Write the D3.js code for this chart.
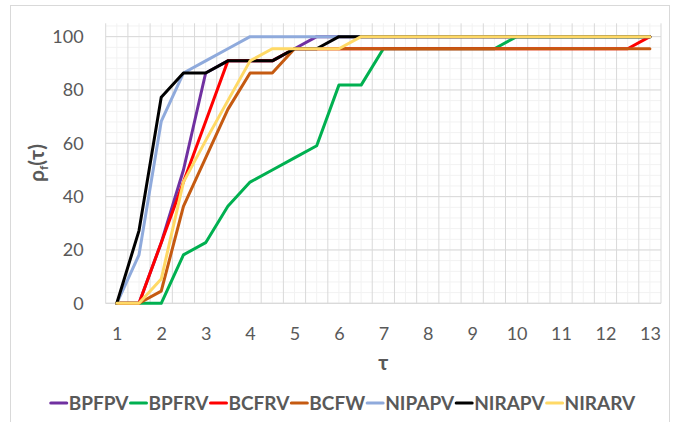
<!DOCTYPE html>
<html>
<head>
<meta charset="utf-8">
<script src="https://cdn.jsdelivr.net/npm/d3@7"></script>
<style>
    body { margin: 0; background: #fff; }
    text { font-family: Lato, "Open Sans", sans-serif; fill: #595959; }
</style>
</head>
<body>
<div id="chart"></div>
<script>
// tau categories and performance profile values (%)
var tau = [1, 1.5, 2, 2.5, 3, 3.5, 4, 4.5, 5, 5.5, 6, 6.5, 7, 7.5, 8, 8.5, 9, 9.5, 10, 10.5, 11, 11.5, 12, 12.5, 13];

var BPFPV  = [0, 0, 22.73, 50, 86.36, 90.91, 90.91, 90.91, 95.45, 100, 100, 100, 100, 100, 100, 100, 100, 100, 100, 100, 100, 100, 100, 100, 100];
var BPFRV  = [0, 0, 0, 18.18, 22.73, 36.36, 45.45, 50, 54.55, 59.09, 81.82, 81.82, 95.45, 95.45, 95.45, 95.45, 95.45, 95.45, 100, 100, 100, 100, 100, 100, 100];
var BCFRV  = [0, 0, 22.73, 45.45, 68.18, 90.91, 90.91, 90.91, 95.45, 95.45, 95.45, 95.45, 95.45, 95.45, 95.45, 95.45, 95.45, 95.45, 95.45, 95.45, 95.45, 95.45, 95.45, 95.45, 100];
var BCFW   = [0, 0, 4.55, 36.36, 54.55, 72.73, 86.36, 86.36, 95.45, 95.45, 95.45, 95.45, 95.45, 95.45, 95.45, 95.45, 95.45, 95.45, 95.45, 95.45, 95.45, 95.45, 95.45, 95.45, 95.45];
var NIPAPV = [0, 18.18, 68.18, 86.36, 90.91, 95.45, 100, 100, 100, 100, 100, 100, 100, 100, 100, 100, 100, 100, 100, 100, 100, 100, 100, 100, 100];
var NIRAPV = [0, 27.27, 77.27, 86.36, 86.36, 90.91, 90.91, 90.91, 95.45, 95.45, 100, 100, 100, 100, 100, 100, 100, 100, 100, 100, 100, 100, 100, 100, 100];
var NIRARV = [0, 0, 9.09, 45.45, 61, 76, 90.91, 95.45, 95.45, 95.45, 95.45, 100, 100, 100, 100, 100, 100, 100, 100, 100, 100, 100, 100, 100, 100];

var seriesNames  = ["BPFPV", "BPFRV", "BCFRV", "BCFW", "NIPAPV", "NIRAPV", "NIRARV"];
var seriesValues = [BPFPV, BPFRV, BCFRV, BCFW, NIPAPV, NIRAPV, NIRARV];
var seriesColors = ["#7030A0", "#00B050", "#FF0000", "#C55A11", "#8FAADC", "#000000", "#FFD966"];

var yTicks = [0, 20, 40, 60, 80, 100];
var yMinorTicks = d3.range(0, 105, 4);
var xTickLabels = [1, 2, 3, 4, 5, 6, 7, 8, 9, 10, 11, 12, 13];

var WIDTH = 678, HEIGHT = 422;
var LEFT = 105.7, RIGHT = 661, TOP = 23.3, BOTTOM = 303.3;

var svg = d3.select("#chart").append("svg")
    .attr("width", WIDTH)
    .attr("height", HEIGHT);

svg.append("rect")
    .attr("x", 10.5).attr("y", 5.5)
    .attr("width", 659).attr("height", 420)
    .attr("fill", "#fff")
    .attr("stroke", "#D9D9D9");

var x = d3.scalePoint().domain(tau).range([LEFT, RIGHT]).padding(0.5);
var y = d3.scaleLinear().domain([0, 105]).range([BOTTOM, TOP]);
var step = x.step();

var grid = svg.append("g").attr("id", "grid");

// minor grid
grid.selectAll("line.hminor")
    .data(yMinorTicks).enter().append("line")
    .attr("class", "hminor")
    .attr("x1", LEFT).attr("x2", RIGHT)
    .attr("y1", function (d) { return y(d); })
    .attr("y2", function (d) { return y(d); })
    .attr("stroke", "#F2F2F2");
grid.selectAll("line.vminor")
    .data(tau).enter().append("line")
    .attr("class", "vminor")
    .attr("y1", TOP).attr("y2", BOTTOM)
    .attr("x1", function (d) { return x(d); })
    .attr("x2", function (d) { return x(d); })
    .attr("stroke", "#F2F2F2");

// major grid
grid.selectAll("line.hmajor")
    .data(yTicks).enter().append("line")
    .attr("class", "hmajor")
    .attr("x1", LEFT).attr("x2", RIGHT)
    .attr("y1", function (d) { return y(d); })
    .attr("y2", function (d) { return y(d); })
    .attr("stroke", "#D9D9D9");
grid.selectAll("line.vmajor")
    .data(d3.range(tau.length + 1)).enter().append("line")
    .attr("class", "vmajor")
    .attr("y1", TOP).attr("y2", BOTTOM)
    .attr("x1", function (i) { return LEFT + i * step; })
    .attr("x2", function (i) { return LEFT + i * step; })
    .attr("stroke", "#D9D9D9");

// y axis labels
var yAxis = svg.append("g")
    .attr("transform", "translate(" + (LEFT - 22) + ",0)")
    .call(d3.axisLeft(y).tickValues(yTicks).tickSize(0).tickPadding(0));
yAxis.select(".domain").remove();
yAxis.selectAll("text")
    .attr("fill", "#595959")
    .style("font-size", "18px");

// x axis labels
var xAxis = svg.append("g")
    .attr("transform", "translate(0," + BOTTOM + ")")
    .call(d3.axisBottom(x).tickValues(xTickLabels).tickSize(0).tickPadding(24));
xAxis.select(".domain")
    .attr("stroke", "#D9D9D9")
    .attr("d", "M" + LEFT + ",0H" + RIGHT);
xAxis.selectAll("text")
    .attr("fill", "#595959")
    .style("font-size", "18px");

// lines
var line = d3.line()
    .x(function (d, i) { return x(tau[i]); })
    .y(function (d) { return y(d); });

svg.append("g").attr("id", "lines")
    .selectAll("path")
    .data(seriesValues).enter().append("path")
    .attr("d", line)
    .attr("fill", "none")
    .attr("stroke", function (d, i) { return seriesColors[i]; })
    .attr("stroke-width", 3)
    .attr("stroke-linejoin", "round")
    .attr("stroke-linecap", "round");

// axis titles
svg.append("text")
    .attr("x", (LEFT + RIGHT) / 2)
    .attr("y", 370)
    .attr("text-anchor", "middle")
    .style("font-size", "21px")
    .style("font-weight", "bold")
    .text("τ");

var yTitle = svg.append("text")
    .attr("transform", "translate(44,163)rotate(-90)")
    .attr("text-anchor", "middle")
    .style("font-size", "21px")
    .style("font-weight", "bold");
yTitle.append("tspan").text("ρ");
yTitle.append("tspan").attr("dy", 4).style("font-size", "12px").text("f");
yTitle.append("tspan").attr("dy", -4).text("(τ)");

// legend
var legend = svg.append("g").attr("id", "legend");
var lx = 0;
seriesNames.forEach(function (name, i) {
    var item = legend.append("g").attr("transform", "translate(" + lx + ",0)");
    item.append("line")
        .attr("x1", 0).attr("x2", 16)
        .attr("y1", 403).attr("y2", 403)
        .attr("stroke", seriesColors[i])
        .attr("stroke-width", 3)
        .attr("stroke-linecap", "round");
    var t = item.append("text")
        .attr("x", 18).attr("y", 410)
        .style("font-size", "19px")
        .style("font-weight", "bold")
        .text(name);
    lx += 18 + t.node().getComputedTextLength() + 2;
});
legend.attr("transform", "translate(" + (344 - lx / 2) + ",0)");
</script>
</body>
</html>
